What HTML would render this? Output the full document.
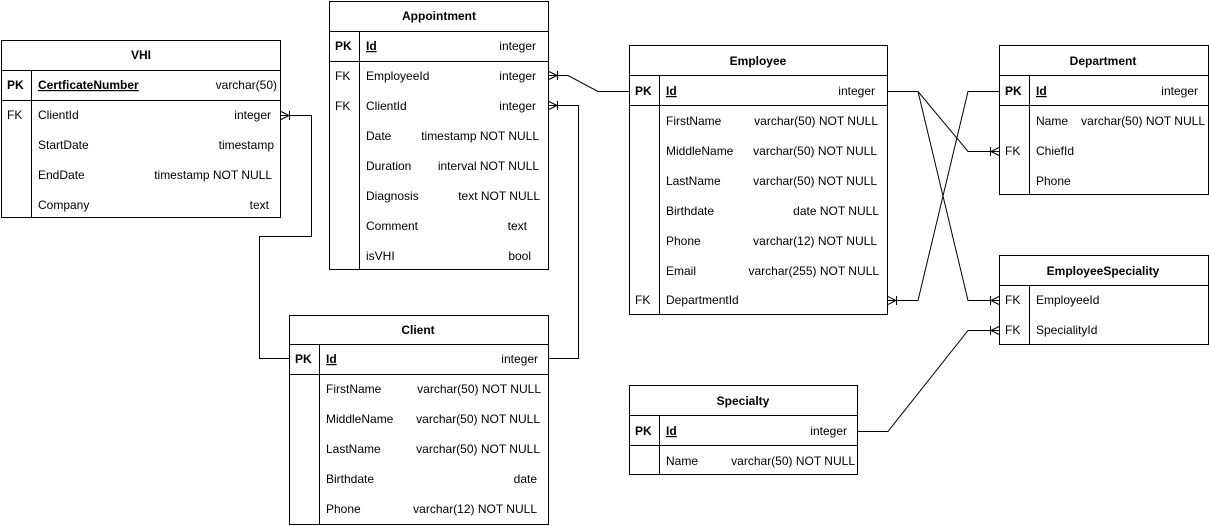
<!DOCTYPE html>
<html><head><meta charset="utf-8"><style>
html,body{margin:0;padding:0;background:#fff;}
svg{display:block;font-family:"Liberation Sans",Arial,sans-serif;font-size:12px;}
.t{font-weight:bold;text-anchor:middle;}
.k{font-weight:bold;}
.u{text-decoration:underline;font-weight:bold;}
.r{text-anchor:end;}
rect,line,polyline{stroke:#000;fill:none;stroke-width:1;}
</style></head><body>
<svg width="1209" height="526" viewBox="0 0 1209 526">
<g fill="#000">
<!-- VHI -->
<rect x="1.5" y="40.5" width="279" height="177"/>
<line x1="1" y1="70.5" x2="281" y2="70.5"/><line x1="1" y1="100.5" x2="281" y2="100.5"/>
<line x1="31.5" y1="70" x2="31.5" y2="218"/>
<text class="t" x="141" y="59">VHI</text>
<text class="k" x="7" y="89">PK</text><text class="u" x="38" y="89">CertficateNumber</text><text class="r" x="277" y="89">varchar(50)</text>
<text x="7" y="119">FK</text><text x="38" y="119">ClientId</text><text class="r" x="271" y="119">integer</text>
<text x="38" y="149">StartDate</text><text class="r" x="274" y="149">timestamp</text>
<text x="38" y="179">EndDate</text><text class="r" x="272" y="179">timestamp NOT NULL</text>
<text x="38" y="209">Company</text><text class="r" x="269" y="209">text</text>

<!-- Appointment -->
<rect x="329.5" y="1.5" width="219" height="268"/>
<line x1="329" y1="31.5" x2="549" y2="31.5"/><line x1="329" y1="61.5" x2="549" y2="61.5"/>
<line x1="359.5" y1="31" x2="359.5" y2="270"/>
<text class="t" x="439" y="20">Appointment</text>
<text class="k" x="335" y="50">PK</text><text class="u" x="366" y="50">Id</text><text class="r" x="536" y="50">integer</text>
<text x="335" y="80">FK</text><text x="366" y="80">EmployeeId</text><text class="r" x="536" y="80">integer</text>
<text x="335" y="110">FK</text><text x="366" y="110">ClientId</text><text class="r" x="536" y="110">integer</text>
<text x="366" y="140">Date</text><text class="r" x="539" y="140">timestamp NOT NULL</text>
<text x="366" y="170">Duration</text><text class="r" x="539" y="170">interval NOT NULL</text>
<text x="366" y="200">Diagnosis</text><text class="r" x="540" y="200">text NOT NULL</text>
<text x="366" y="230">Comment</text><text class="r" x="527" y="230">text</text>
<text x="366" y="260">isVHI</text><text class="r" x="531" y="260">bool</text>

<!-- Employee -->
<rect x="629.5" y="45.5" width="258" height="269"/>
<line x1="629" y1="75.5" x2="888" y2="75.5"/><line x1="629" y1="105.5" x2="888" y2="105.5"/>
<line x1="659.5" y1="75" x2="659.5" y2="315"/>
<text class="t" x="758" y="65">Employee</text>
<text class="k" x="635" y="95">PK</text><text class="u" x="666" y="95">Id</text><text class="r" x="875" y="95">integer</text>
<text x="666" y="125">FirstName</text><text class="r" x="878" y="125">varchar(50) NOT NULL</text>
<text x="666" y="155">MiddleName</text><text class="r" x="877" y="155">varchar(50) NOT NULL</text>
<text x="666" y="185">LastName</text><text class="r" x="877" y="185">varchar(50) NOT NULL</text>
<text x="666" y="215">Birthdate</text><text class="r" x="879" y="215">date NOT NULL</text>
<text x="666" y="245">Phone</text><text class="r" x="877" y="245">varchar(12) NOT NULL</text>
<text x="666" y="275">Email</text><text class="r" x="879" y="275">varchar(255) NOT NULL</text>
<text x="635" y="304">FK</text><text x="666" y="304">DepartmentId</text>

<!-- Department -->
<rect x="999.5" y="45.5" width="209" height="149"/>
<line x1="999" y1="75.5" x2="1209" y2="75.5"/><line x1="999" y1="105.5" x2="1209" y2="105.5"/>
<line x1="1029.5" y1="75" x2="1029.5" y2="195"/>
<text class="t" x="1103" y="65">Department</text>
<text class="k" x="1005" y="95">PK</text><text class="u" x="1036" y="95">Id</text><text class="r" x="1198" y="95">integer</text>
<text x="1036" y="125">Name</text><text class="r" x="1205" y="125">varchar(50) NOT NULL</text>
<text x="1005" y="155">FK</text><text x="1036" y="155">ChiefId</text>
<text x="1036" y="185">Phone</text>

<!-- EmployeeSpeciality -->
<rect x="999.5" y="255.5" width="209" height="89"/>
<line x1="999" y1="285.5" x2="1209" y2="285.5"/>
<line x1="1029.5" y1="285" x2="1029.5" y2="345"/>
<text class="t" x="1103" y="275">EmployeeSpeciality</text>
<text x="1005" y="304">FK</text><text x="1036" y="304">EmployeeId</text>
<text x="1005" y="334">FK</text><text x="1036" y="334">SpecialityId</text>

<!-- Client -->
<rect x="289.5" y="315.5" width="259" height="209"/>
<line x1="289" y1="344.5" x2="549" y2="344.5"/><line x1="289" y1="374.5" x2="549" y2="374.5"/>
<line x1="319.5" y1="344" x2="319.5" y2="525"/>
<text class="t" x="418" y="334">Client</text>
<text class="k" x="295" y="363">PK</text><text class="u" x="326" y="363">Id</text><text class="r" x="538" y="363">integer</text>
<text x="326" y="393">FirstName</text><text class="r" x="541" y="393">varchar(50) NOT NULL</text>
<text x="326" y="423">MiddleName</text><text class="r" x="540" y="423">varchar(50) NOT NULL</text>
<text x="326" y="453">LastName</text><text class="r" x="540" y="453">varchar(50) NOT NULL</text>
<text x="326" y="483">Birthdate</text><text class="r" x="537" y="483">date</text>
<text x="326" y="513">Phone</text><text class="r" x="537" y="513">varchar(12) NOT NULL</text>

<!-- Specialty -->
<rect x="629.5" y="385.5" width="228" height="89"/>
<line x1="629" y1="415.5" x2="858" y2="415.5"/><line x1="629" y1="445.5" x2="858" y2="445.5"/>
<line x1="659.5" y1="415" x2="659.5" y2="475"/>
<text class="t" x="743" y="405">Specialty</text>
<text class="k" x="635" y="435">PK</text><text class="u" x="666" y="435">Id</text><text class="r" x="847" y="435">integer</text>
<text x="666" y="465">Name</text><text class="r" x="855" y="465">varchar(50) NOT NULL</text>
</g>

<!-- connectors -->
<polyline points="549,358.5 578.5,358.5 578.5,105.5 549,105.5"/>
<polyline points="289,358.5 259.5,358.5 259.5,236.5 311.5,236.5 311.5,115.5 281,115.5"/>
<polyline points="549,75.5 568,75.5 598,91.5 629,91.5"/>
<polyline points="888,91.5 918,91.5 968,151.5 999,151.5"/>
<polyline points="918,91.5 968,300.5 999,300.5"/>
<polyline points="888,300.5 918,300.5 968,91.5 999,91.5"/>
<polyline points="858,431.5 888,431.5 968,330.5 999,330.5"/>

<!-- crow feet (right-facing entity edges) -->
<g>
<polyline points="549,71.5 557,75.5 549,79.5"/><line x1="557.5" y1="71" x2="557.5" y2="80"/>
<polyline points="549,101.5 557,105.5 549,109.5"/><line x1="557.5" y1="101" x2="557.5" y2="110"/>
<polyline points="281,111.5 289,115.5 281,119.5"/><line x1="289.5" y1="111" x2="289.5" y2="120"/>
<polyline points="888,296.5 896,300.5 888,304.5"/><line x1="896.5" y1="296" x2="896.5" y2="305"/>
<polyline points="999,147.5 991,151.5 999,155.5"/><line x1="990.5" y1="147" x2="990.5" y2="156"/>
<polyline points="999,296.5 991,300.5 999,304.5"/><line x1="990.5" y1="296" x2="990.5" y2="305"/>
<polyline points="999,326.5 991,330.5 999,334.5"/><line x1="990.5" y1="326" x2="990.5" y2="335"/>
</g>
</svg>
</body></html>
